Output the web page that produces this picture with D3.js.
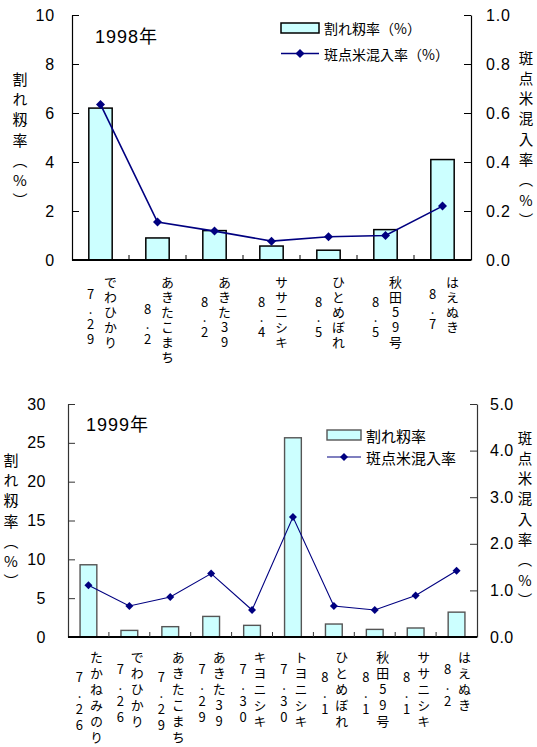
<!DOCTYPE html>
<html><head><meta charset="utf-8">
<script src="https://cdn.jsdelivr.net/npm/d3@7"></script>
<style>
html,body{margin:0;padding:0;background:#fff;}
svg{display:block;}
.v{writing-mode:vertical-rl;text-orientation:upright;}
</style></head>
<body>
<svg id="c" width="537" height="747"></svg>
<script>
// ---------- DATA ----------
const cats98 = ["でわひかり","あきたこまち","あきた39","ササニシキ","ひとめぼれ","秋田59号","はえぬき"];
const dates98 = ["7.29","8.2","8.2","8.4","8.5","8.5","8.7"];
const crack98 = [6.2, 0.9, 1.2, 0.57, 0.4, 1.24, 4.1];
const spot98 = [0.635, 0.155, 0.118, 0.077, 0.095, 0.10, 0.22];
const leftTicks98 = [0, 2, 4, 6, 8, 10];
const rightTicks98 = [0, 0.2, 0.4, 0.6, 0.8, 1.0];

const cats99 = ["たかねみのり","でわひかり","あきたこまち","あきた39","キヨニシキ","トヨニシキ","ひとめぼれ","秋田59号","ササニシキ","はえぬき"];
const dates99 = ["7.26","7.26","7.29","7.29","7.30","7.30","8.1","8.1","8.1","8.2"];
const crack99 = [9.3, 0.85, 1.33, 2.65, 1.5, 25.65, 1.67, 0.98, 1.16, 3.2];
const spot99 = [1.11, 0.665, 0.86, 1.36, 0.58, 2.575, 0.665, 0.58, 0.89, 1.42];
const leftTicks99 = [0, 5, 10, 15, 20, 25, 30];
const rightTicks99 = [0, 1, 2, 3, 4, 5];

const leftTitle = "割れ籾率（%）";
const rightTitle = "斑点米混入率（%）";

// ---------- DRAW ----------
const svg = d3.select("#c");
const JP = "'Noto Sans CJK JP','Noto Sans',sans-serif";
const NUM = "'Liberation Sans',Arial,sans-serif";

// one vertical <text> per column; y0 = centre of first character
function vtext(g, str, x, y0, step, size){
  g.append("text").attr("class","v")
    .attr("x",x).attr("y",y0 - step/2 + (step-size)/2)
    .attr("font-family",JP).attr("font-size",size).attr("fill","#000")
    .attr("letter-spacing",step-size)
    .text(str);
}

function diamond(r){ return `M0,${-r}L${r},0L0,${r}L${-r},0Z`; }

function chart(o){
  const g = svg.append("g");
  const x = d3.scaleBand().domain(o.cats).range([o.L, o.R]).paddingInner(0).paddingOuter(0);
  const yL = d3.scaleLinear().domain([0, o.maxL]).range([o.B, o.T]);
  const yR = d3.scaleLinear().domain([0, o.maxR]).range([o.B, o.T]);
  const bw = x.bandwidth()*0.41;

  // bars
  g.append("g").selectAll("rect").data(o.crack).join("rect")
    .attr("x",(d,i)=>x(o.cats[i]) + x.bandwidth()/2 - bw/2)
    .attr("y",d=>yL(d)).attr("width",bw).attr("height",d=>o.B - yL(d))
    .attr("fill","#ccffff").attr("stroke",o.barStroke).attr("stroke-width",o.barSW);

  // left axis
  const ax = d3.axisLeft(yL).tickValues(o.leftTicks).tickSize(-7).tickSizeOuter(0).tickPadding(o.padL).tickFormat(d3.format("d"));
  const ga = g.append("g").attr("transform",`translate(${o.L},0)`).call(ax);
  ga.select(".domain").attr("stroke",o.axisC).attr("stroke-width",1.2);
  ga.selectAll(".tick line").attr("stroke",o.axisC);
  ga.selectAll("text").attr("font-family",NUM).attr("font-size",o.tickFS).attr("fill","#000").attr("letter-spacing",o.ls);

  // right axis
  const axr = d3.axisRight(yR).tickValues(o.rightTicks).tickSize(-7).tickSizeOuter(0).tickPadding(o.padR).tickFormat(d3.format(".1f"));
  const gr = g.append("g").attr("transform",`translate(${o.R},0)`).call(axr);
  gr.select(".domain").attr("stroke",o.axisC).attr("stroke-width",1.2);
  gr.selectAll(".tick line").attr("stroke",o.axisC);
  gr.selectAll("text").attr("font-family",NUM).attr("font-size",o.tickFS).attr("fill","#000").attr("letter-spacing",o.ls);

  // bottom axis
  const tickPos = o.cats.slice(1).map(c=>x(c));
  g.append("line").attr("x1",o.L).attr("x2",o.R).attr("y1",o.B).attr("y2",o.B)
    .attr("stroke","#000").attr("stroke-width",1.8);
  g.append("g").selectAll("line").data(tickPos).join("line")
    .attr("x1",d=>d).attr("x2",d=>d).attr("y1",o.B).attr("y2",o.B-5)
    .attr("stroke",o.axisC).attr("stroke-width",1);

  // line series
  const line = d3.line().x((d,i)=>x(o.cats[i])+x.bandwidth()/2).y(d=>yR(d));
  g.append("path").datum(o.spot).attr("d",line).attr("fill","none")
    .attr("stroke","#000080").attr("stroke-width",o.lineW);
  g.append("g").selectAll("path").data(o.spot).join("path")
    .attr("d",diamond(o.dr))
    .attr("transform",(d,i)=>`translate(${x(o.cats[i])+x.bandwidth()/2},${yR(d)})`)
    .attr("fill","#000080");

  // category labels (vertical)
  o.cats.forEach((c,i)=>{
    const cx = x(c)+x.bandwidth()/2;
    const n = Array.from(c).length;
    vtext(g, c, cx + o.nameDX, o.labTop, o.labStep, o.labFS);
    const nameCenter = o.labTop + (n-1)*o.labStep/2;
    const dn = Array.from(o.dates[i]).length;
    const dStart = nameCenter + o.dateDY - (dn-1)*o.labStep/2;
    vtext(g, o.dates[i], cx + o.dateDX, dStart, o.labStep, o.labFS);
  });

  // title
  g.append("text").attr("x",o.titleX).attr("y",o.titleY)
    .attr("font-family",NUM).attr("font-size",18).attr("letter-spacing",1).text(o.year)
    .append("tspan").attr("font-family",JP).text("年");

  // axis titles
  vtext(g, leftTitle, o.ltX, o.ltY, 20.3, 15);
  vtext(g, rightTitle, o.rtX, o.rtY, 20.3, 14.5);

  // legend
  const lg = g.append("g");
  lg.append("rect").attr("x",o.legX).attr("y",o.legY1-5).attr("width",o.legW).attr("height",10)
    .attr("fill","#ccffff").attr("stroke",o.barStroke).attr("stroke-width",o.barSW);
  lg.append("text").attr("x",o.legTX).attr("y",o.legY1).attr("dominant-baseline","central")
    .attr("font-family",JP).attr("font-size",o.legFS).text(o.leg1);
  lg.append("line").attr("x1",o.legX).attr("x2",o.legX+o.legW).attr("y1",o.legY2).attr("y2",o.legY2)
    .attr("stroke","#000080").attr("stroke-width",o.lineW);
  lg.append("path").attr("d",diamond(o.dr)).attr("fill","#000080")
    .attr("transform",`translate(${o.legX+o.legW/2},${o.legY2})`);
  lg.append("text").attr("x",o.legTX).attr("y",o.legY2).attr("dominant-baseline","central")
    .attr("font-family",JP).attr("font-size",o.legFS).text(o.leg2);
}

chart({
  cats:cats98, dates:dates98, crack:crack98, spot:spot98,
  leftTicks:leftTicks98, rightTicks:rightTicks98, maxL:10, maxR:1.0,
  L:72, R:471, T:15, B:260,
  barStroke:"#000", barSW:1.5, axisC:"#000", lineW:1.6, dr:4.5,
  padL:17, padR:15, tickFS:16, ls:0.8,
  nameDX:10, dateDX:-10, labTop:282, labStep:15, labFS:13, dateDY:5,
  year:"1998", titleX:95, titleY:43,
  ltX:20, ltY:79, rtX:526, rtY:58,
  legX:281, legW:38, legY1:28, legY2:53.5, legTX:324, legFS:14,
  leg1:"割れ籾率（%）", leg2:"斑点米混入率（%）"
});

chart({
  cats:cats99, dates:dates99, crack:crack99, spot:spot99,
  leftTicks:leftTicks99, rightTicks:rightTicks99, maxL:30, maxR:5,
  L:68, R:477, T:404, B:637,
  barStroke:"#555", barSW:1.4, axisC:"#333", lineW:1.1, dr:4,
  padL:22, padR:13, tickFS:16, ls:0.5,
  nameDX:8, dateDX:-9, labTop:657, labStep:16, labFS:13, dateDY:4,
  year:"1999", titleX:86, titleY:431,
  ltX:11, ltY:460, rtX:525, rtY:438,
  legX:327, legW:34, legY1:435, legY2:457, legTX:366, legFS:15,
  leg1:"割れ籾率", leg2:"斑点米混入率"
});
</script>
</body></html>
